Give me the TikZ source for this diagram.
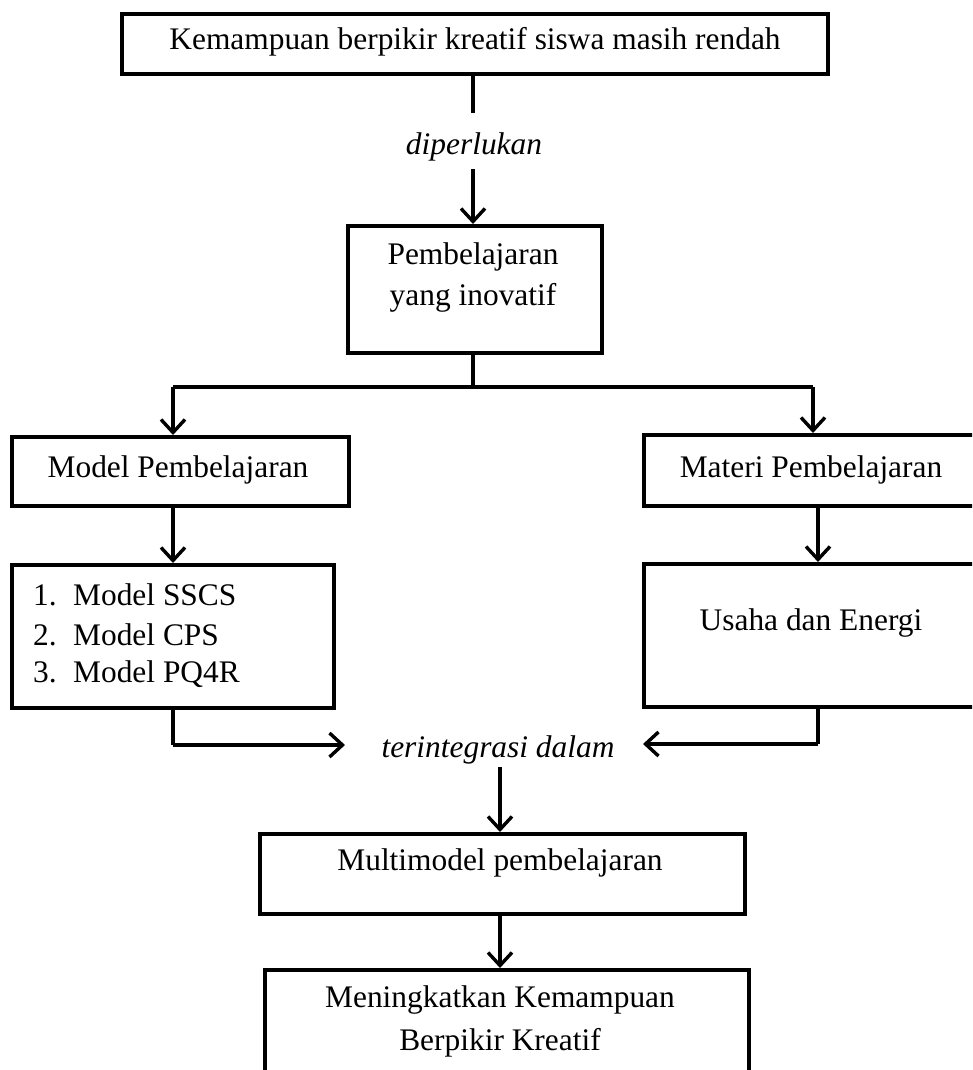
\documentclass[tikz,border=0pt]{standalone}
\usepackage{fontspec}
\setmainfont{Liberation Serif}
\usetikzlibrary{arrows.meta}
\begin{document}
\begin{tikzpicture}[x=1pt,y=-1pt,
  every node/.style={font=\fontsize{31.4}{41}\selectfont, inner sep=0pt},
  box/.style={draw, line width=3.6pt, anchor=north west, inner sep=0pt},
  lbl/.style={font=\fontsize{31.4}{41}\selectfont\itshape},
  conn/.style={line width=3.4pt},
  arr/.style={line width=3.4pt, -{Straight Barb[length=13pt,width=24pt,line width=3.4pt]}}]
\useasboundingbox (0,0) rectangle (972,1070);
\clip (0,0) rectangle (972,1070);

% boxes
\node[box, minimum width=706pt, minimum height=60pt] (top) at (120,12) {};
\node[box, minimum width=254pt, minimum height=127pt] (inov) at (346,224) {};
\node[box, minimum width=337pt, minimum height=69pt] (model) at (10,435) {};
\node[box, minimum width=350pt, minimum height=71pt] (materi) at (642,433) {};
\node[box, minimum width=322pt, minimum height=143pt] (list) at (10,563) {};
\node[box, minimum width=350pt, minimum height=143pt] (usaha) at (642,562) {};
\node[box, minimum width=485pt, minimum height=80pt] (multi) at (258,832) {};
\node[box, minimum width=484pt, minimum height=140pt] (final) at (263,968) {};

% texts
\node (ttop) at (475,42) {Kemampuan berpikir kreatif siswa masih rendah};
\node (tinov1) at (473,257) {Pembelajaran};
\node (tinov2) at (473,298) {yang inovatif};
\node (tmodel) at (178,470) {Model Pembelajaran};
\node (tmateri) at (811,470) {Materi Pembelajaran};
\node[anchor=west] (l1) at (33,595) {\makebox[40pt][l]{1.}Model SSCS};
\node[anchor=west] (l2) at (33,635) {\makebox[40pt][l]{2.}Model CPS};
\node[anchor=west] (l3) at (33,674) {\makebox[40pt][l]{3.}Model PQ4R};
\node (tusaha) at (811,623) {Usaha dan Energi};
\node (tmulti) at (500,863) {Multimodel pembelajaran};
\node (tfin1) at (500,1000) {Meningkatkan Kemampuan};
\node (tfin2) at (500,1043) {Berpikir Kreatif};

% connector labels
\node[lbl] (dip) at (474,147) {diperlukan};
\node[lbl] (integ) at (498,750) {terintegrasi dalam};

% coordinates
\coordinate (c1) at (473,113);
\coordinate (c2) at (473,169);
\coordinate (split) at (473,387);
\coordinate (sl) at (173,387);
\coordinate (sr) at (813,387);
\coordinate (jl) at (173,745);
\coordinate (jlend) at (345,745);
\coordinate (jr) at (818,744);
\coordinate (jrend) at (643,744);
\coordinate (c3) at (500,767);

% connectors
\draw[conn] (top.south -| c1) -- (c1);
\draw[arr] (c2) -- (c2 |- inov.north);
\draw[conn] (inov.south -| split) -- (split);
\draw[conn] (sl) -- (sr);
\draw[arr] (sl) -- (sl |- model.north);
\draw[arr] (sr) -- (sr |- materi.north);
\draw[arr] (model.south -| sl) -- (sl |- list.north);
\draw[arr] (materi.south -| jr) -- (jr |- usaha.north);
\draw[conn] (list.south -| jl) -- (jl);
\draw[arr] (jl) -- (jlend);
\draw[conn] (usaha.south -| jr) -- (jr);
\draw[arr] (jr) -- (jrend);
\draw[arr] (c3) -- (c3 |- multi.north);
\draw[arr] (multi.south -| c3) -- (c3 |- final.north);
\end{tikzpicture}
\end{document}
